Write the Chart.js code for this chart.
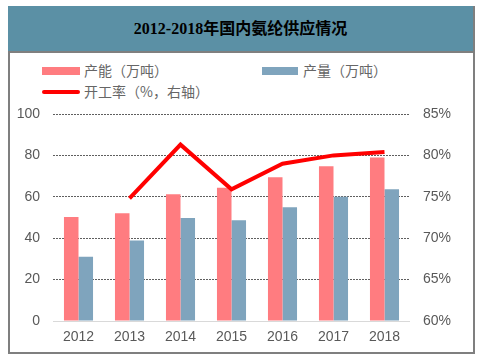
<!DOCTYPE html>
<html>
<head>
<meta charset="utf-8">
<script src="https://cdn.jsdelivr.net/npm/chart.js@4.4.1/dist/chart.umd.min.js"></script>
<style>
    html, body { margin: 0; padding: 0; background: #fff; }
    #wrap { position: relative; width: 477px; height: 362px; overflow: hidden; }
    #frame {
        position: absolute; left: 8px; top: 6px; width: 463px; height: 346px;
        border: 2px solid #7f7f7f; border-top: none; box-sizing: content-box;
    }
    #title {
        position: absolute; left: 8px; top: 6px; width: 465px; height: 45px;
        background: #5b90a5; border-bottom: 2px solid #7f7f7f;
        font: bold 16px "Liberation Serif", "Noto Sans CJK SC", serif;
        color: #000; text-align: center; line-height: 46px;
    }
    .leg { position: absolute; font: 14px "Noto Sans CJK SC", sans-serif; color: #666; white-space: nowrap; }
    .sw { position: absolute; }
    canvas { position: absolute; left: 0; top: 0; }
</style>
</head>
<body>
<div id="wrap">
    <div id="frame"></div>
    <div id="title">2012-2018年国内氨纶供应情况</div>
    <div class="sw" style="left:42px;top:67px;width:38px;height:8px;background:#ff7c80"></div>
    <div class="leg" style="left:84px;top:60px">产能（万吨）</div>
    <div class="sw" style="left:262px;top:67px;width:36px;height:8px;background:#7fa4bd"></div>
    <div class="leg" style="left:303px;top:60px">产量（万吨）</div>
    <div class="sw" style="left:42px;top:90px;width:38px;height:4px;background:#ff0000;border-radius:2px"></div>
    <div class="leg" style="left:84px;top:81px">开工率（%，右轴）</div>
    <canvas id="chart" width="477" height="362"></canvas>
</div>
<script>
// data
const years = ['2012', '2013', '2014', '2015', '2016', '2017', '2018'];
const capacity = [50.3, 52, 61.2, 64.4, 69.4, 74.8, 79];
const output = [31, 38.9, 49.8, 48.7, 54.9, 60, 63.6];
const utilization = [null, 74.8, 81.3, 75.9, 79.0, 80.0, 80.4];

const tickFont = { family: '"Liberation Sans", Arial, sans-serif', size: 14 };
const tickColor = '#595959';

new Chart(document.getElementById('chart'), {
    type: 'bar',
    data: {
        labels: years,
        datasets: [
            {
                type: 'line',
                label: '开工率（%，右轴）',
                data: utilization,
                yAxisID: 'y2',
                borderColor: '#ff0000',
                backgroundColor: '#ff0000',
                borderWidth: 4,
                pointRadius: 0,
                tension: 0,
                spanGaps: false,
                order: 0
            },
            {
                label: '产能（万吨）',
                data: capacity,
                backgroundColor: '#ff7c80',
                categoryPercentage: 0.57,
                barPercentage: 1,
                order: 1
            },
            {
                label: '产量（万吨）',
                data: output,
                backgroundColor: '#7fa4bd',
                categoryPercentage: 0.57,
                barPercentage: 1,
                order: 1
            }
        ]
    },
    options: {
        responsive: false,
        animation: false,
        layout: {
            padding: { left: 0, right: 0, top: 114, bottom: 11 }
        },
        plugins: {
            legend: { display: false },
            tooltip: { enabled: false }
        },
        scales: {
            x: {
                grid: { display: false, drawTicks: false },
                border: { display: false },
                ticks: { color: tickColor, font: tickFont, padding: 8 },
                afterFit(scale) { scale.height = 30; }
            },
            y: {
                position: 'left',
                min: 0,
                max: 100,
                ticks: { stepSize: 20, color: tickColor, font: tickFont, padding: 13 },
                grid: {
                    drawTicks: false,
                    lineWidth: 1,
                    color: (ctx) => ctx.tick && ctx.tick.value === 0 ? '#d9d9d9' : '#5f5f5f'
                },
                border: {
                    display: false,
                    dash: (ctx) => ctx.tick && ctx.tick.value === 0 ? [] : [2, 1]
                },
                afterFit(scale) { scale.width = 53; }
            },
            y2: {
                position: 'right',
                min: 60,
                max: 85,
                ticks: {
                    stepSize: 5, color: tickColor, font: tickFont, padding: 13,
                    callback: (v) => v + '%'
                },
                grid: { display: false, drawTicks: false },
                border: { display: false },
                afterFit(scale) { scale.width = 67; }
            }
        }
    }
});
</script>
</body>
</html>
